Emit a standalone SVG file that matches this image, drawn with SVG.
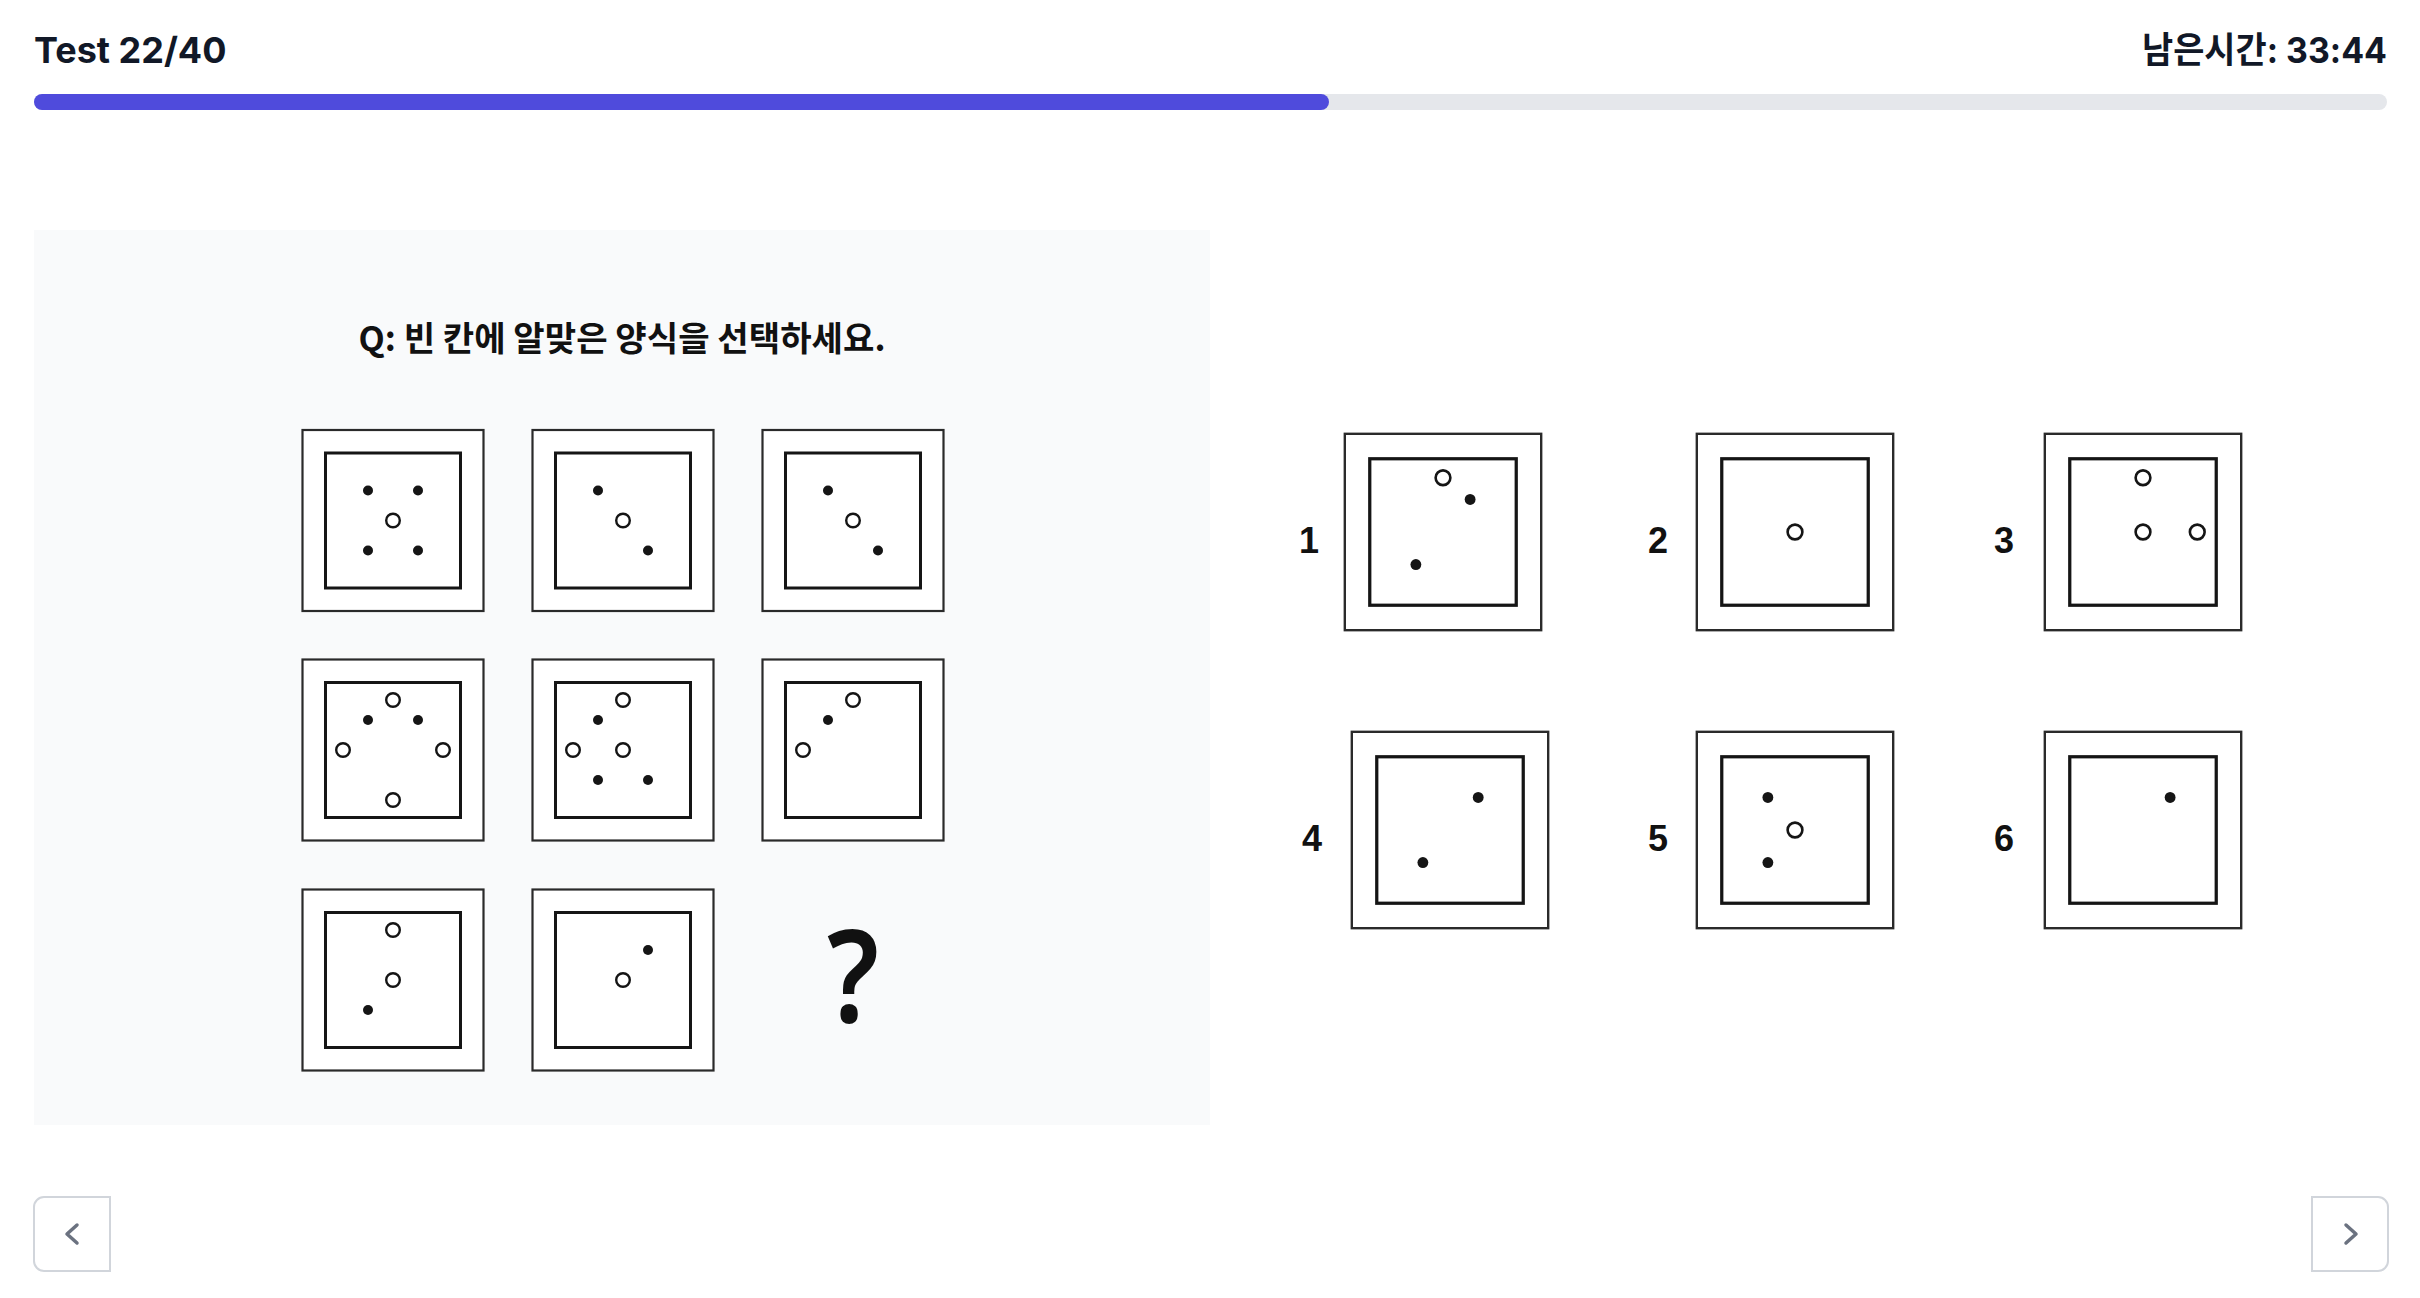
<svg xmlns="http://www.w3.org/2000/svg" xmlns:xlink="http://www.w3.org/1999/xlink" width="2420" height="1298" viewBox="0 0 2420 1298">
<style>
.hdr{font-family:Inter,"Noto Sans CJK KR","Liberation Sans",sans-serif;font-weight:700;font-size:36px;fill:#111827}
.q{font-family:"Noto Sans CJK KR","Liberation Sans",sans-serif;font-weight:700;font-size:34px;fill:#111}
.lbl{font-family:"Liberation Sans",Arial,sans-serif;font-weight:700;font-size:36px;fill:#111;text-anchor:middle}
.qm{font-family:"Noto Sans","Open Sans",sans-serif;font-weight:600;font-size:128px;fill:#111;text-anchor:middle}
.outer{fill:#fff;stroke:#2a2a2a;stroke-width:2.2}
.inner{fill:#fff;stroke:#151515;stroke-width:3}
.dot{fill:#151515}
.ring{fill:#fff;stroke:#151515;stroke-width:2.4}
.btn{fill:#fff;stroke:#d1d5db;stroke-width:2}
.chev{fill:none;stroke:#6b7280;stroke-width:3.5;stroke-linecap:round;stroke-linejoin:round}
</style>
<defs>
<g id="frame"><rect class="outer" x="-90.5" y="-90.5" width="181" height="181"/><rect class="inner" x="-67.5" y="-67.5" width="135" height="135"/></g>
<circle id="d" class="dot" r="5"/>
<circle id="o" class="ring" r="6.8"/>
</defs>
<rect width="2420" height="1298" fill="#fff"/>
<g id="header">
<text class="hdr" x="34" y="63">Test 22/40</text>
<text class="hdr" x="2387" y="63" text-anchor="end" textLength="245" lengthAdjust="spacingAndGlyphs">남은시간: 33:44</text>
<rect x="34" y="94" width="2353" height="16" rx="8" fill="#e5e7eb"/>
<rect x="34" y="94" width="1295" height="16" rx="8" fill="#4f4bdc"/>
</g>
<g id="panel">
<rect x="34" y="230" width="1176" height="895" fill="#f9fafb"/>
<text class="q" x="622" y="351" text-anchor="middle" textLength="527" lengthAdjust="spacingAndGlyphs">Q: 빈 칸에 알맞은 양식을 선택하세요.</text>
</g>
<g id="cell-1" transform="translate(393,520.5)"><use href="#frame"/><use href="#d" x="-25" y="-30"/><use href="#d" x="25" y="-30"/><use href="#o"/><use href="#d" x="-25" y="30"/><use href="#d" x="25" y="30"/></g>
<g id="cell-2" transform="translate(623,520.5)"><use href="#frame"/><use href="#d" x="-25" y="-30"/><use href="#o"/><use href="#d" x="25" y="30"/></g>
<g id="cell-3" transform="translate(853,520.5)"><use href="#frame"/><use href="#d" x="-25" y="-30"/><use href="#o"/><use href="#d" x="25" y="30"/></g>
<g id="cell-4" transform="translate(393,750)"><use href="#frame"/><use href="#o" y="-50"/><use href="#d" x="-25" y="-30"/><use href="#d" x="25" y="-30"/><use href="#o" x="-50"/><use href="#o" x="50"/><use href="#o" y="50"/></g>
<g id="cell-5" transform="translate(623,750)"><use href="#frame"/><use href="#o" y="-50"/><use href="#d" x="-25" y="-30"/><use href="#o" x="-50"/><use href="#o"/><use href="#d" x="-25" y="30"/><use href="#d" x="25" y="30"/></g>
<g id="cell-6" transform="translate(853,750)"><use href="#frame"/><use href="#o" y="-50"/><use href="#d" x="-25" y="-30"/><use href="#o" x="-50"/></g>
<g id="cell-7" transform="translate(393,980)"><use href="#frame"/><use href="#o" y="-50"/><use href="#o"/><use href="#d" x="-25" y="30"/></g>
<g id="cell-8" transform="translate(623,980)"><use href="#frame"/><use href="#d" x="25" y="-30"/><use href="#o"/></g>
<g id="cell-9"><text class="qm" transform="translate(853,1022) scale(0.88,1)">?</text></g>
<g id="option-1"><text class="lbl" x="1309" y="553">1</text><g transform="translate(1443,532) scale(1.085)"><use href="#frame"/><use href="#o" y="-50"/><use href="#d" x="25" y="-30"/><use href="#d" x="-25" y="30"/></g></g>
<g id="option-2"><text class="lbl" x="1658" y="553">2</text><g transform="translate(1795,532) scale(1.085)"><use href="#frame"/><use href="#o"/></g></g>
<g id="option-3"><text class="lbl" x="2004" y="553">3</text><g transform="translate(2143,532) scale(1.085)"><use href="#frame"/><use href="#o" y="-50"/><use href="#o"/><use href="#o" x="50"/></g></g>
<g id="option-4"><text class="lbl" x="1312" y="851">4</text><g transform="translate(1450,830) scale(1.085)"><use href="#frame"/><use href="#d" x="26" y="-30"/><use href="#d" x="-25" y="30"/></g></g>
<g id="option-5"><text class="lbl" x="1658" y="851">5</text><g transform="translate(1795,830) scale(1.085)"><use href="#frame"/><use href="#d" x="-25" y="-30"/><use href="#o"/><use href="#d" x="-25" y="30"/></g></g>
<g id="option-6"><text class="lbl" x="2004" y="851">6</text><g transform="translate(2143,830) scale(1.085)"><use href="#frame"/><use href="#d" x="25" y="-30"/></g></g>
<g id="btn-prev"><path class="btn" d="M110,1197 H44 A10,10 0 0 0 34,1207 V1261 A10,10 0 0 0 44,1271 H110 Z"/><path class="chev" d="M77,1225 L67,1234 L77,1243"/></g>
<g id="btn-next"><path class="btn" d="M2312,1197 H2378 A10,10 0 0 1 2388,1207 V1261 A10,10 0 0 1 2378,1271 H2312 Z"/><path class="chev" d="M2346,1225 L2356,1234 L2346,1243"/></g>
<g id="connectors"/>
</svg>
